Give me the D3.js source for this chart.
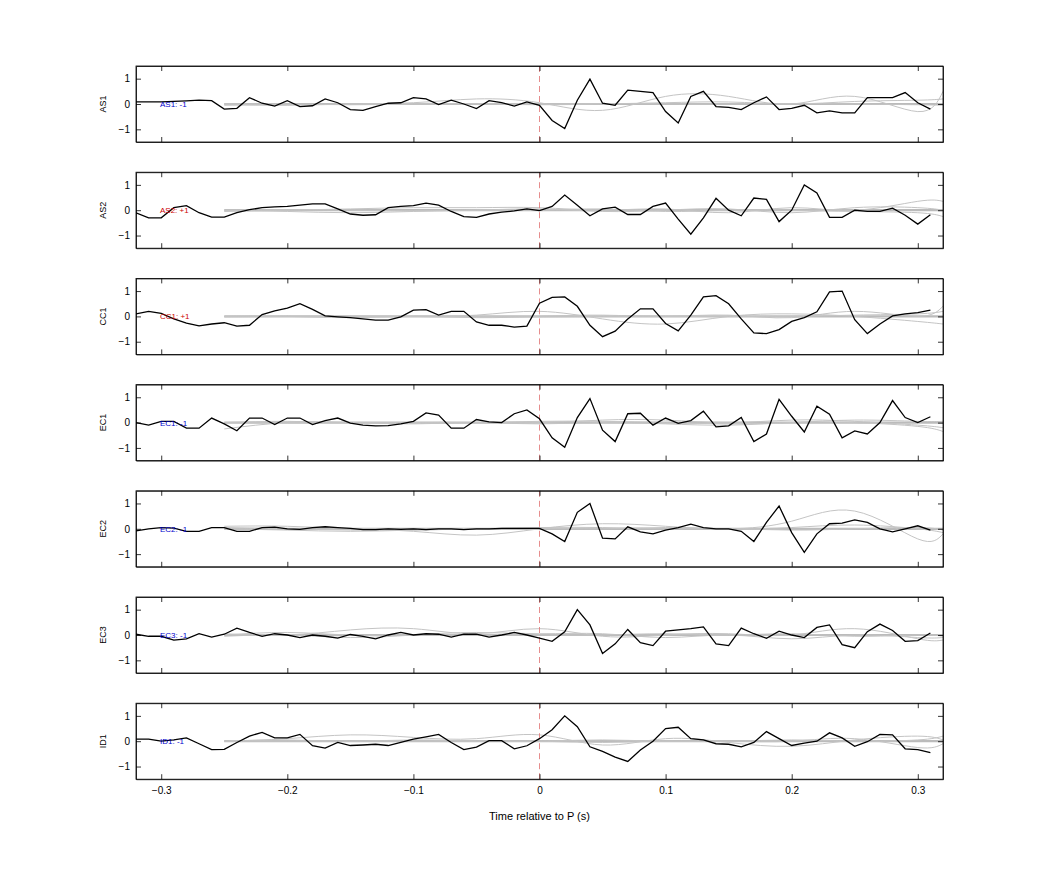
<!DOCTYPE html>
<html><head><meta charset="utf-8">
<script src="https://cdn.jsdelivr.net/npm/d3@7"></script>
<style>body{margin:0;background:#fff}text{font-family:"Liberation Sans",Arial,sans-serif}</style>
</head><body><svg id="c" width="1042" height="875"></svg>
<script>
const channels = ["AS1","AS2","CC1","EC1","EC2","EC3","ID1"];
const labels = ["AS1: -1","AS2: +1","CC1: +1","EC1: -1","EC2: -1","EC3: -1","ID1: -1"];
const labelColors = ["#0000cc","#cc0000","#cc0000","#0000cc","#0000cc","#0000cc","#0000cc"];
const xTicks = [-0.3,-0.2,-0.1,0,0.1,0.2,0.3];
const yTicks = [-1,0,1];
// times -0.32 .. 0.31 step 0.01 (64 samples)
const times = d3.range(64).map(i => +(-0.32 + i*0.01).toFixed(2));
const AS1 = [0.08,0.08,0.08,0.1,0.12,0.15,0.13,-0.2,-0.17,0.25,0.03,-0.08,0.13,-0.1,-0.07,0.2,0.05,-0.22,-0.25,-0.1,0.03,0.05,0.25,0.2,-0.02,0.15,0.0,-0.18,0.13,0.05,-0.08,0.08,-0.05,
 -0.65,-0.97,0.15,0.98,0.03,-0.05,0.55,0.5,0.45,-0.3,-0.75,0.3,0.5,-0.1,-0.13,-0.22,0.05,0.28,-0.22,-0.17,-0.05,-0.35,-0.27,-0.35,-0.35,0.25,0.25,0.25,0.45,0.05,-0.2];
const AS2 = [-0.1,-0.3,-0.3,0.1,0.18,-0.1,-0.27,-0.27,-0.1,0.02,0.1,0.13,0.15,0.2,0.25,0.25,0.05,-0.15,-0.2,-0.18,0.1,0.15,0.18,0.28,0.2,-0.05,-0.25,-0.28,-0.15,-0.08,-0.03,0.05,-0.02,
 0.15,0.6,0.2,-0.22,0.05,0.12,-0.17,-0.17,0.15,0.28,-0.35,-0.95,-0.3,0.47,0.0,-0.22,0.48,0.43,-0.45,0.0,1.0,0.68,-0.28,-0.28,0.0,-0.05,-0.05,0.08,-0.2,-0.55,-0.18];
const CC1 = [0.1,0.2,0.12,-0.1,-0.27,-0.37,-0.3,-0.25,-0.38,-0.35,0.07,0.22,0.33,0.5,0.28,0.02,-0.02,-0.05,-0.1,-0.15,-0.15,-0.02,0.25,0.27,0.05,0.2,0.2,-0.22,-0.35,-0.35,-0.42,-0.38,0.52,
 0.75,0.77,0.4,-0.35,-0.8,-0.58,-0.1,0.3,0.3,-0.28,-0.57,0.05,0.77,0.82,0.5,-0.1,-0.65,-0.68,-0.52,-0.2,-0.05,0.18,0.97,1.0,-0.13,-0.68,-0.3,0.02,0.1,0.15,0.25];
const EC1 = [0.0,-0.1,0.05,0.05,-0.22,-0.22,0.18,-0.05,-0.32,0.18,0.18,-0.08,0.18,0.18,-0.08,0.08,0.18,-0.02,-0.1,-0.13,-0.12,-0.05,0.05,0.38,0.3,-0.22,-0.22,0.12,0.03,0.0,0.35,0.5,0.15,
 -0.6,-0.97,0.2,0.95,-0.3,-0.75,0.35,0.37,-0.1,0.18,-0.03,0.08,0.45,-0.17,-0.13,0.2,-0.75,-0.45,0.92,0.25,-0.37,0.65,0.33,-0.6,-0.33,-0.45,0.0,0.87,0.2,0.0,0.23];
const EC2 = [-0.08,0.0,0.05,0.03,-0.1,-0.1,0.05,0.05,-0.1,-0.1,0.05,0.07,0.0,-0.02,0.05,0.08,0.05,0.02,-0.03,-0.03,0.0,-0.02,0.0,-0.03,0.0,0.0,-0.03,0.0,0.0,0.02,0.02,0.02,0.02,
 -0.2,-0.5,0.65,1.0,-0.37,-0.4,0.08,-0.12,-0.2,-0.05,0.05,0.18,0.05,0.0,0.0,-0.1,-0.5,0.25,0.9,-0.15,-0.93,-0.2,0.2,0.22,0.35,0.25,0.0,-0.12,0.0,0.12,-0.05];
const EC3 = [0.03,-0.05,-0.05,-0.2,-0.15,0.05,-0.08,0.03,0.27,0.1,-0.05,0.05,0.0,-0.1,0.0,-0.05,-0.12,0.02,-0.05,-0.15,0.0,0.1,0.0,0.05,0.03,-0.08,0.03,0.03,-0.08,0.0,0.1,0.0,-0.12,
 -0.25,0.13,1.0,0.4,-0.73,-0.35,0.22,-0.3,-0.42,0.15,0.2,0.25,0.32,-0.35,-0.42,0.27,0.05,-0.13,0.15,0.0,-0.1,0.3,0.4,-0.38,-0.5,0.13,0.43,0.18,-0.25,-0.22,0.08];
const ID1 = [0.08,0.08,0.0,0.05,0.13,-0.1,-0.33,-0.32,-0.05,0.2,0.35,0.13,0.13,0.27,-0.18,-0.27,-0.05,-0.17,-0.15,-0.12,-0.17,-0.05,0.08,0.17,0.27,-0.05,-0.33,-0.23,0.02,0.02,-0.3,-0.18,0.1,
 0.45,1.0,0.57,-0.22,-0.4,-0.63,-0.8,-0.35,0.0,0.5,0.55,0.1,0.05,-0.1,-0.12,-0.22,-0.05,0.38,0.1,-0.17,-0.08,0.0,0.33,0.13,-0.2,-0.02,0.27,0.25,-0.3,-0.33,-0.45];
const series = [AS1,AS2,CC1,EC1,EC2,EC3,ID1];
// gray smooth reference traces, knots at these times
const knots = [-0.25,-0.2,-0.15,-0.1,-0.05,0,0.05,0.1,0.15,0.2,0.25,0.3,0.32];
const grayAS1 = [[0,-0.05,0,0.05,0.2,0.05,-0.25,0.3,0.3,0.0,0.3,-0.3,0.5],[-0.05,-0.03,0,0,0,-0.03,0,0.05,0.08,0,0.1,0.15,0.2],[0,0,-0.03,0,0.02,0,0.02,0,0,0.02,0,-0.03,-0.05]];
const grayAS2 = [[-0.05,0,0.05,0.1,0.1,0.1,0,0.05,-0.1,0.1,0.0,0.35,0.35],[0,-0.05,-0.1,-0.05,0,0.05,-0.05,0,0.05,-0.1,0.1,0.1,0.0],[0,0.02,0,-0.02,0,0,0.05,-0.05,0,0,-0.05,-0.1,-0.25]];
const grayCC1 = [[0,0,0,0,0.05,0.2,-0.1,-0.3,0,0.1,0.0,-0.2,-0.3],[0,0,-0.05,0,-0.05,0,0.05,0,0.05,-0.05,0.2,0.0,0.4],[-0.02,0,0,0,0,-0.02,0,0,0,0,0.05,0.1,0.2]];
const grayEC1 = [[-0.25,0,0,-0.05,0,0,0.1,0.1,0.0,0.1,0.05,-0.1,-0.2],[0,0.05,0,0,0,0.05,0.05,0,-0.05,0,0.1,0.05,0.05],[0,0,0,0,0,-0.05,0,-0.05,-0.1,0,0,-0.15,-0.35]];
const grayEC2 = [[0.1,0.1,0,-0.1,-0.25,0,0.2,0.1,0,0.3,0.7,-0.4,-0.2],[0.05,0,-0.05,-0.05,0,0.02,0,0.05,0,0.05,0.15,0.0,-0.15],[0,-0.05,-0.1,-0.05,0,0.05,0.05,0,0,-0.05,0,0.05,-0.05]];
const grayEC3 = [[0.05,0,0.2,0.25,0.05,0.25,-0.05,0,0.05,0,0.25,-0.15,-0.2],[-0.05,0,-0.1,0,0.1,0.05,0.05,-0.1,0,-0.15,0,-0.1,-0.1],[0,0.1,0,0,0,0,0,0.05,0,0.05,-0.05,0,-0.05]];
const grayID1 = [[0,0.1,0.25,0.15,0.1,0.25,-0.15,0.1,-0.05,-0.2,0.05,0.2,0.05],[0,0.05,0,0.05,0,0,0.05,0,0,0,0.1,-0.25,-0.1],[0,0,0,0,0,0,-0.05,0,0,0.05,0,0.05,0.2]];
const grays = [grayAS1,grayAS2,grayCC1,grayEC1,grayEC2,grayEC3,grayID1];

const svg = d3.select("#c");
const L=136, R=943, top0=66, ph=76, gap=106.2;
const x = d3.scaleLinear().domain([-0.32,0.32]).range([L,R]);
channels.forEach((ch,k)=>{
  const T = top0 + k*gap;
  const y = d3.scaleLinear().domain([-1.5,1.5]).range([T+ph,T]);
  const g = svg.append("g");
  const clipId="cl"+k;
  svg.append("clipPath").attr("id",clipId).append("rect").attr("x",L).attr("y",T).attr("width",R-L).attr("height",ph);
  const pg = g.append("g").attr("clip-path",`url(#${clipId})`);
  // zero baseline band
  pg.append("path").datum(knots).attr("fill","none").attr("stroke","#bbb").attr("stroke-width",2.2)
    .attr("d",d3.line().x(t=>x(t)).y(()=>y(0)));
  grays[k].forEach(arr=>{
    pg.append("path").datum(arr).attr("fill","none").attr("stroke","#c4c4c4").attr("stroke-width",1)
      .attr("d",d3.line().curve(d3.curveNatural).x((v,i)=>x(knots[i])).y(v=>y(v)));
  });
  pg.append("line").attr("x1",x(0)).attr("x2",x(0)).attr("y1",T).attr("y2",T+ph)
    .attr("stroke","#e07070").attr("stroke-width",0.8).attr("stroke-dasharray","6,4");
  pg.append("path").datum(series[k]).attr("fill","none").attr("stroke","#000").attr("stroke-width",1.3)
    .attr("d",d3.line().x((v,i)=>x(times[i])).y(v=>y(v)));
  // axes
  const bx = g.append("g").attr("transform",`translate(0,${T+ph})`).call(d3.axisBottom(x).tickValues(xTicks).tickSizeInner(-5).tickSizeOuter(0).tickFormat(k===6?d3.format(""):""));
  const tx = g.append("g").attr("transform",`translate(0,${T})`).call(d3.axisTop(x).tickValues(xTicks).tickSizeInner(-5).tickSizeOuter(0).tickFormat(""));
  const ly = g.append("g").attr("transform",`translate(${L},0)`).call(d3.axisLeft(y).tickValues(yTicks).tickSizeInner(-5).tickSizeOuter(0).tickFormat(d3.format("")));
  const ry = g.append("g").attr("transform",`translate(${R},0)`).call(d3.axisRight(y).tickValues(yTicks).tickSizeInner(-5).tickSizeOuter(0).tickFormat(""));
  [bx,tx,ly,ry].forEach(a=>{a.selectAll("path,line").attr("stroke","#000").attr("stroke-width",0.8);a.selectAll("text").attr("font-size",10).attr("fill","#000").attr("font-family","Liberation Sans, Arial, sans-serif");});
  bx.selectAll("text").attr("dy","1.2em");
  ly.selectAll("text").attr("dx","-0.3em");
  g.append("rect").attr("x",L).attr("y",T).attr("width",R-L).attr("height",ph).attr("fill","none").attr("stroke","#000").attr("stroke-width",0.8);
  g.append("text").attr("transform",`translate(106,${T+ph/2}) rotate(-90)`).attr("text-anchor","middle").attr("font-size",9).text(ch);
  g.append("text").attr("x",160).attr("y",y(0)+3).attr("font-size",8).attr("fill",labelColors[k]).text(labels[k]);
});
svg.append("text").attr("x",(L+R)/2).attr("y",820).attr("text-anchor","middle").attr("font-size",11).text("Time relative to P (s)");
</script></body></html>
